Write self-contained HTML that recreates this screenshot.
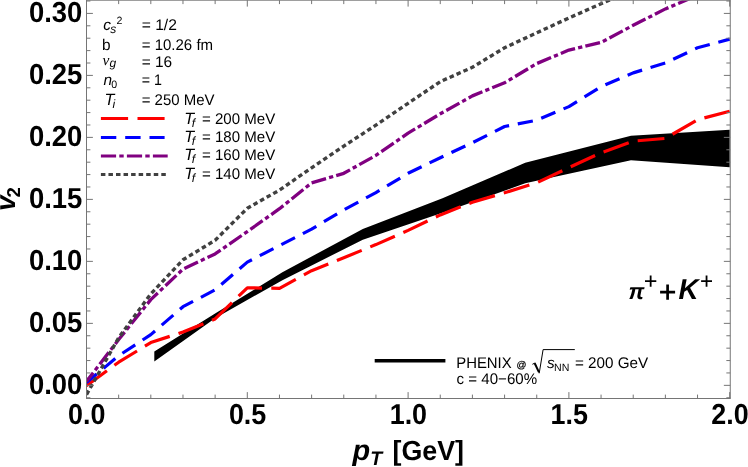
<!DOCTYPE html>
<html><head><meta charset="utf-8"><title>v2 vs pT</title>
<style>
html,body{margin:0;padding:0;background:#fff;}
body{width:748px;height:467px;overflow:hidden;font-family:"Liberation Sans",sans-serif;}
svg{display:block;font-family:"Liberation Sans",sans-serif;}
text{text-rendering:geometricPrecision;}
svg{will-change:transform;}
.tl text{font-weight:bold;font-size:28.9px;fill:#000;}
.sm{font-size:15.4px;fill:#000;}
</style></head><body>
<svg width="748" height="467" viewBox="0 0 748 467">
<rect width="748" height="467" fill="#fff"/>
<defs><clipPath id="cp"><rect x="86.5" y="0.2" width="643.75" height="398.3"/></clipPath></defs>
<g clip-path="url(#cp)" fill="none" stroke-linejoin="round">
<polygon points="154.3,351.6 215.1,313.4 282.4,272.3 362.8,228.9 442.5,198.3 525.2,162.8 631.0,135.8 729.7,129.7 729.7,167.3 631.0,160.3 525.2,183.3 442.5,212.8 362.8,239.7 282.4,280.2 215.1,318.2 154.3,361.4" fill="#000" stroke="none"/>
<polyline points="86.5,385.7 118.7,362.2 150.8,342.6 183.0,332.0 215.1,318.9 247.3,287.8 279.5,288.3 311.6,270.7 343.8,257.7 375.9,244.6 408.1,230.4 440.3,214.9 472.4,202.2 504.6,192.8 536.7,182.8 568.9,167.6 601.1,152.8 633.2,141.1 665.4,138.4 697.5,119.7 729.7,111.2" stroke="#ff0000" stroke-width="3.2" stroke-dasharray="26.8 9.25" stroke-dashoffset="1.5"/>
<polyline points="86.5,382.6 118.7,355.7 150.8,334.6 183.0,306.7 215.1,289.9 247.3,262.1 279.5,245.6 311.6,229.1 343.8,209.9 375.9,192.6 408.1,173.3 440.3,157.7 472.4,142.7 504.6,126.5 536.7,120.2 568.9,106.6 601.1,86.7 633.2,72.9 665.4,62.9 697.5,47.8 729.7,39.1" stroke="#0000ff" stroke-width="3.2" stroke-dasharray="15.35 8.85" stroke-dashoffset="2"/>
<polyline points="86.5,381.4 118.7,339.5 150.8,299.6 183.0,269.1 215.1,253.9 247.3,231.6 279.5,208.7 311.6,182.9 343.8,173.3 375.9,155.4 408.1,133.1 440.3,113.8 472.4,95.9 504.6,82.8 536.7,63.6 568.9,50.1 601.1,42.4 633.2,25.3 665.4,8.9 697.5,-4.7" stroke="#800080" stroke-width="3.3" stroke-dasharray="15.05 3.15 4.3 3.15" stroke-dashoffset="4"/>
<polyline points="86.5,394.6 118.7,337.7 150.8,293.9 183.0,259.8 215.1,240.3 247.3,208.3 279.5,190.1 311.6,167.8 343.8,146.1 375.9,125.1 408.1,103.3 440.3,81.6 472.4,67.3 504.6,47.8 536.7,32.8 568.9,18.0 601.1,3.7 633.2,-10.1" stroke="#404040" stroke-width="3.4" stroke-dasharray="4.5 3.05"/>
</g>
<g stroke="#757575" stroke-width="1" fill="none">
<rect x="86.5" y="0.2" width="643.75" height="398.3"/>
<line x1="86.50" y1="398.50" x2="86.50" y2="392.10"/><line x1="86.50" y1="0.20" x2="86.50" y2="6.60"/><line x1="118.66" y1="398.50" x2="118.66" y2="394.60"/><line x1="118.66" y1="0.20" x2="118.66" y2="4.10"/><line x1="150.82" y1="398.50" x2="150.82" y2="394.60"/><line x1="150.82" y1="0.20" x2="150.82" y2="4.10"/><line x1="182.98" y1="398.50" x2="182.98" y2="394.60"/><line x1="182.98" y1="0.20" x2="182.98" y2="4.10"/><line x1="215.14" y1="398.50" x2="215.14" y2="394.60"/><line x1="215.14" y1="0.20" x2="215.14" y2="4.10"/><line x1="247.30" y1="398.50" x2="247.30" y2="392.10"/><line x1="247.30" y1="0.20" x2="247.30" y2="6.60"/><line x1="279.46" y1="398.50" x2="279.46" y2="394.60"/><line x1="279.46" y1="0.20" x2="279.46" y2="4.10"/><line x1="311.62" y1="398.50" x2="311.62" y2="394.60"/><line x1="311.62" y1="0.20" x2="311.62" y2="4.10"/><line x1="343.78" y1="398.50" x2="343.78" y2="394.60"/><line x1="343.78" y1="0.20" x2="343.78" y2="4.10"/><line x1="375.94" y1="398.50" x2="375.94" y2="394.60"/><line x1="375.94" y1="0.20" x2="375.94" y2="4.10"/><line x1="408.10" y1="398.50" x2="408.10" y2="392.10"/><line x1="408.10" y1="0.20" x2="408.10" y2="6.60"/><line x1="440.26" y1="398.50" x2="440.26" y2="394.60"/><line x1="440.26" y1="0.20" x2="440.26" y2="4.10"/><line x1="472.42" y1="398.50" x2="472.42" y2="394.60"/><line x1="472.42" y1="0.20" x2="472.42" y2="4.10"/><line x1="504.58" y1="398.50" x2="504.58" y2="394.60"/><line x1="504.58" y1="0.20" x2="504.58" y2="4.10"/><line x1="536.74" y1="398.50" x2="536.74" y2="394.60"/><line x1="536.74" y1="0.20" x2="536.74" y2="4.10"/><line x1="568.90" y1="398.50" x2="568.90" y2="392.10"/><line x1="568.90" y1="0.20" x2="568.90" y2="6.60"/><line x1="601.06" y1="398.50" x2="601.06" y2="394.60"/><line x1="601.06" y1="0.20" x2="601.06" y2="4.10"/><line x1="633.22" y1="398.50" x2="633.22" y2="394.60"/><line x1="633.22" y1="0.20" x2="633.22" y2="4.10"/><line x1="665.38" y1="398.50" x2="665.38" y2="394.60"/><line x1="665.38" y1="0.20" x2="665.38" y2="4.10"/><line x1="697.54" y1="398.50" x2="697.54" y2="394.60"/><line x1="697.54" y1="0.20" x2="697.54" y2="4.10"/><line x1="729.70" y1="398.50" x2="729.70" y2="392.10"/><line x1="729.70" y1="0.20" x2="729.70" y2="6.60"/><line x1="86.50" y1="397.75" x2="90.40" y2="397.75"/><line x1="730.25" y1="397.75" x2="726.35" y2="397.75"/><line x1="86.50" y1="385.35" x2="92.90" y2="385.35"/><line x1="730.25" y1="385.35" x2="723.85" y2="385.35"/><line x1="86.50" y1="372.95" x2="90.40" y2="372.95"/><line x1="730.25" y1="372.95" x2="726.35" y2="372.95"/><line x1="86.50" y1="360.55" x2="90.40" y2="360.55"/><line x1="730.25" y1="360.55" x2="726.35" y2="360.55"/><line x1="86.50" y1="348.16" x2="90.40" y2="348.16"/><line x1="730.25" y1="348.16" x2="726.35" y2="348.16"/><line x1="86.50" y1="335.76" x2="90.40" y2="335.76"/><line x1="730.25" y1="335.76" x2="726.35" y2="335.76"/><line x1="86.50" y1="323.36" x2="92.90" y2="323.36"/><line x1="730.25" y1="323.36" x2="723.85" y2="323.36"/><line x1="86.50" y1="310.96" x2="90.40" y2="310.96"/><line x1="730.25" y1="310.96" x2="726.35" y2="310.96"/><line x1="86.50" y1="298.56" x2="90.40" y2="298.56"/><line x1="730.25" y1="298.56" x2="726.35" y2="298.56"/><line x1="86.50" y1="286.17" x2="90.40" y2="286.17"/><line x1="730.25" y1="286.17" x2="726.35" y2="286.17"/><line x1="86.50" y1="273.77" x2="90.40" y2="273.77"/><line x1="730.25" y1="273.77" x2="726.35" y2="273.77"/><line x1="86.50" y1="261.37" x2="92.90" y2="261.37"/><line x1="730.25" y1="261.37" x2="723.85" y2="261.37"/><line x1="86.50" y1="248.97" x2="90.40" y2="248.97"/><line x1="730.25" y1="248.97" x2="726.35" y2="248.97"/><line x1="86.50" y1="236.57" x2="90.40" y2="236.57"/><line x1="730.25" y1="236.57" x2="726.35" y2="236.57"/><line x1="86.50" y1="224.18" x2="90.40" y2="224.18"/><line x1="730.25" y1="224.18" x2="726.35" y2="224.18"/><line x1="86.50" y1="211.78" x2="90.40" y2="211.78"/><line x1="730.25" y1="211.78" x2="726.35" y2="211.78"/><line x1="86.50" y1="199.38" x2="92.90" y2="199.38"/><line x1="730.25" y1="199.38" x2="723.85" y2="199.38"/><line x1="86.50" y1="186.98" x2="90.40" y2="186.98"/><line x1="730.25" y1="186.98" x2="726.35" y2="186.98"/><line x1="86.50" y1="174.58" x2="90.40" y2="174.58"/><line x1="730.25" y1="174.58" x2="726.35" y2="174.58"/><line x1="86.50" y1="162.19" x2="90.40" y2="162.19"/><line x1="730.25" y1="162.19" x2="726.35" y2="162.19"/><line x1="86.50" y1="149.79" x2="90.40" y2="149.79"/><line x1="730.25" y1="149.79" x2="726.35" y2="149.79"/><line x1="86.50" y1="137.39" x2="92.90" y2="137.39"/><line x1="730.25" y1="137.39" x2="723.85" y2="137.39"/><line x1="86.50" y1="124.99" x2="90.40" y2="124.99"/><line x1="730.25" y1="124.99" x2="726.35" y2="124.99"/><line x1="86.50" y1="112.59" x2="90.40" y2="112.59"/><line x1="730.25" y1="112.59" x2="726.35" y2="112.59"/><line x1="86.50" y1="100.20" x2="90.40" y2="100.20"/><line x1="730.25" y1="100.20" x2="726.35" y2="100.20"/><line x1="86.50" y1="87.80" x2="90.40" y2="87.80"/><line x1="730.25" y1="87.80" x2="726.35" y2="87.80"/><line x1="86.50" y1="75.40" x2="92.90" y2="75.40"/><line x1="730.25" y1="75.40" x2="723.85" y2="75.40"/><line x1="86.50" y1="63.00" x2="90.40" y2="63.00"/><line x1="730.25" y1="63.00" x2="726.35" y2="63.00"/><line x1="86.50" y1="50.60" x2="90.40" y2="50.60"/><line x1="730.25" y1="50.60" x2="726.35" y2="50.60"/><line x1="86.50" y1="38.21" x2="90.40" y2="38.21"/><line x1="730.25" y1="38.21" x2="726.35" y2="38.21"/><line x1="86.50" y1="25.81" x2="90.40" y2="25.81"/><line x1="730.25" y1="25.81" x2="726.35" y2="25.81"/><line x1="86.50" y1="13.41" x2="92.90" y2="13.41"/><line x1="730.25" y1="13.41" x2="723.85" y2="13.41"/><line x1="86.50" y1="1.01" x2="90.40" y2="1.01"/><line x1="730.25" y1="1.01" x2="726.35" y2="1.01"/>
</g>
<g class="tl"><text x="82.3" y="394.1" textLength="53.4" lengthAdjust="spacingAndGlyphs" text-anchor="end">0.00</text><text x="82.3" y="332.1" textLength="53.4" lengthAdjust="spacingAndGlyphs" text-anchor="end">0.05</text><text x="82.3" y="270.1" textLength="53.4" lengthAdjust="spacingAndGlyphs" text-anchor="end">0.10</text><text x="82.3" y="208.1" textLength="53.4" lengthAdjust="spacingAndGlyphs" text-anchor="end">0.15</text><text x="82.3" y="146.1" textLength="53.4" lengthAdjust="spacingAndGlyphs" text-anchor="end">0.20</text><text x="82.3" y="84.1" textLength="53.4" lengthAdjust="spacingAndGlyphs" text-anchor="end">0.25</text><text x="82.3" y="22.1" textLength="53.4" lengthAdjust="spacingAndGlyphs" text-anchor="end">0.30</text><text x="86.8" y="423.9" textLength="37.4" lengthAdjust="spacingAndGlyphs" text-anchor="middle">0.0</text><text x="247.6" y="423.9" textLength="37.4" lengthAdjust="spacingAndGlyphs" text-anchor="middle">0.5</text><text x="408.4" y="423.9" textLength="37.4" lengthAdjust="spacingAndGlyphs" text-anchor="middle">1.0</text><text x="569.2" y="423.9" textLength="37.4" lengthAdjust="spacingAndGlyphs" text-anchor="middle">1.5</text><text x="730.0" y="423.9" textLength="37.4" lengthAdjust="spacingAndGlyphs" text-anchor="middle">2.0</text></g>
<g font-weight="bold" font-size="27.6px" fill="#000">
<text x="352.5" y="460.0" font-size="28.9px" font-style="italic">p</text>
<text x="370.2" y="465.3" font-size="19.5px" font-style="italic">T</text>
<text x="392.5" y="460.0" textLength="71.5" lengthAdjust="spacingAndGlyphs">[GeV]</text>
<g transform="translate(15.2,211) rotate(-90)"><text x="0.0" y="0.0" font-size="28px" font-style="italic">v</text><text x="13.6" y="5.0" font-size="18.6px">2</text></g>
</g>
<g class="sm"><text x="103.2" y="29.5" font-style="italic">c</text><text x="110.2" y="33.0" font-size="12px" font-style="italic">s</text><text x="116.6" y="24.0" font-size="10.6px">2</text><text x="141.7" y="29.5" textLength="35.2" lengthAdjust="spacingAndGlyphs">= 1/2</text><text x="102.1" y="49.8">b</text><text x="141.7" y="49.8" textLength="71.4" lengthAdjust="spacingAndGlyphs">= 10.26 fm</text><text x="102.6" y="64.5" font-family="Liberation Serif" font-style="italic" font-size="15.5px">ν</text><text x="109.4" y="67.3" font-size="12px" font-style="italic">g</text><text x="141.7" y="67.1" textLength="30.4" lengthAdjust="spacingAndGlyphs">= 16</text><text x="103.5" y="85.1" font-style="italic">n</text><text x="111.2" y="87.8" font-size="10.6px">0</text><text x="141.7" y="85.1" textLength="20.2" lengthAdjust="spacingAndGlyphs">= 1</text><text x="104.4" y="104.8" font-size="16.2px" font-style="italic">T</text><text x="112.4" y="107.8" font-size="12px" font-style="italic">i</text><text x="141.7" y="104.8" textLength="72.8" lengthAdjust="spacingAndGlyphs">= 250 MeV</text></g>
<g fill="none" stroke-width="3.2">
<line x1="100.9" y1="118.5" x2="164.6" y2="118.5" stroke="#ff0000" stroke-dasharray="27.2 9.4"/>
<line x1="100.9" y1="137.5" x2="164.6" y2="137.5" stroke="#0000ff" stroke-dasharray="15.4 8.9"/>
<line x1="100.9" y1="156" x2="167.7" y2="156" stroke="#800080" stroke-dasharray="15.2 3.2 4.4 3.2"/>
<line x1="100.9" y1="174.5" x2="166.4" y2="174.5" stroke="#404040" stroke-dasharray="4.5 3.05"/>
</g>
<g class="sm"><text x="184.2" y="123.6" font-size="16.2px" font-style="italic">T</text><text x="191.8" y="126.6" font-size="12px" font-style="italic">f</text><text x="201.9" y="123.6" textLength="73.3" lengthAdjust="spacingAndGlyphs">= 200 MeV</text><text x="184.2" y="142.1" font-size="16.2px" font-style="italic">T</text><text x="191.8" y="145.1" font-size="12px" font-style="italic">f</text><text x="201.9" y="142.1" textLength="73.3" lengthAdjust="spacingAndGlyphs">= 180 MeV</text><text x="184.2" y="160.3" font-size="16.2px" font-style="italic">T</text><text x="191.8" y="163.3" font-size="12px" font-style="italic">f</text><text x="201.9" y="160.3" textLength="73.3" lengthAdjust="spacingAndGlyphs">= 160 MeV</text><text x="184.2" y="178.7" font-size="16.2px" font-style="italic">T</text><text x="191.8" y="181.7" font-size="12px" font-style="italic">f</text><text x="201.9" y="178.7" textLength="73.3" lengthAdjust="spacingAndGlyphs">= 140 MeV</text></g>
<line x1="374.7" y1="360.8" x2="445.4" y2="360.8" stroke="#000" stroke-width="3.6"/>
<g class="sm">
<text x="456.2" y="368.0" textLength="55.5" lengthAdjust="spacingAndGlyphs">PHENIX</text>
<text x="516.6" y="368.1" font-size="9.8px" stroke="#000" stroke-width="0.25">@</text>
<path d="M532.4 364.3 L534.7 363.1" fill="none" stroke="#000" stroke-width="1"/><path d="M534.6 363 L539 372.4" fill="none" stroke="#000" stroke-width="2"/><path d="M539.2 373.3 L543.1 349.6 H574.8" fill="none" stroke="#000" stroke-width="1"/>
<text x="547.0" y="368.0" font-style="italic">s</text><text x="554.0" y="371.1" font-size="10.6px">NN</text>
<text x="574.9" y="368.0" textLength="73.3" lengthAdjust="spacingAndGlyphs">= 200 GeV</text>
<text x="456.6" y="383.7" textLength="80.5" lengthAdjust="spacingAndGlyphs">c = 40−60%</text>
</g>
<g font-weight="bold" font-style="italic" font-size="28.9px" fill="#000">
<text x="628.6" y="299.2" font-size="22.3px">π</text>
<text x="678.4" y="299.2" textLength="20.0" lengthAdjust="spacingAndGlyphs">K</text>
</g>
<g stroke="#000" fill="none">
<path d="M645 281.2 H656.3 M650.65 275.6 V286.8" stroke-width="1.8"/>
<path d="M701.1 281.2 H712 M706.55 275.6 V286.8" stroke-width="1.8"/>
<path d="M660.1 292.1 H675.1 M667.6 284.6 V299.7" stroke-width="2.7"/>
</g>
</svg>
</body></html>
